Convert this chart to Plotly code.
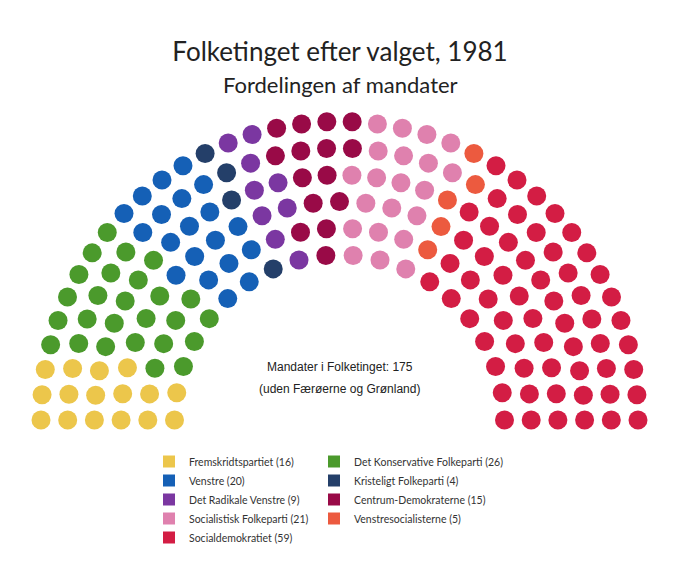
import numpy as np
import plotly.graph_objects as go

# Seats per party, in seating order from left to right
parties = ["Fremskridtspartiet", "Det Konservative Folkeparti", "Venstre",
           "Kristeligt Folkeparti", "Det Radikale Venstre", "Centrum-Demokraterne",
           "Socialistisk Folkeparti", "Venstresocialisterne", "Socialdemokratiet"]
seats = [16, 26, 20, 4, 9, 15, 21, 5, 59]
colors = ["#ECC64B", "#4B9A2C", "#1560B6", "#243F69", "#7B37A1",
          "#990A47", "#DF81AE", "#EC5A3F", "#D31D44"]

W, H = 680, 583
OFF = 8  # page body margin, positions below are in page pixels


def px_x(p):
    return (p - OFF) / W


def px_y(p):
    return 1 - (p - OFF) / H


# hemicycle layout (seats per arc, inner to outer)
ROW_SEATS = [20, 24, 27, 32, 34, 38]
CX, CY = 339.5, 420
R_INNER, ROW_GAP = 165, 26.7

slots = []
for i, n in enumerate(ROW_SEATS):
    r = R_INNER + i * ROW_GAP
    for k in range(n):
        a = np.pi - np.pi * k / (n - 1)
        slots.append((a, -i, CX + r * np.cos(a), CY - r * np.sin(a)))
# fill seats from the left, outer rows first on ties
slots.sort(key=lambda s: (-s[0], s[1]))

fig = go.Figure()
start = 0
for i, (name, n, col) in enumerate(zip(parties, seats, colors)):
    part = slots[start:start + n]
    start += n
    fig.add_trace(go.Scatter(
        x=[s[2] for s in part], y=[s[3] for s in part], mode="markers",
        marker=dict(size=19, color=col, line=dict(width=0)),
        name=f"{name} ({n})", legendgroup=name, showlegend=False,
        hovertemplate=f"{name}: {n}<extra></extra>"))
    # square legend entry; two columns
    fig.add_trace(go.Scatter(
        x=[None], y=[None], mode="markers",
        marker=dict(symbol="square", size=12, color=col),
        name=f"{name} ({n})", legendgroup=name,
        legend="legend" if i % 2 == 0 else "legend2"))

legend_style = dict(font=dict(family="Lato", size=10.5, color="#333"),
                    itemsizing="constant", tracegroupgap=0,
                    bgcolor="rgba(0,0,0,0)", xanchor="left", yanchor="top",
                    y=px_y(447))

center_font = dict(family="Liberation Sans", size=12, color="#222")
fig.add_annotation(x=CX, y=367, text="Mandater i Folketinget: 175", showarrow=False,
                   yanchor="middle", font=center_font)
fig.add_annotation(x=CX, y=389, text="(uden Færøerne og Grønland)", showarrow=False,
                   yanchor="middle", font=center_font)
fig.add_annotation(x=px_x(340), y=px_y(85), xref="paper", yref="paper",
                   text="Fordelingen af mandater", showarrow=False,
                   xanchor="center", yanchor="middle",
                   font=dict(family="Lato", size=22, color="#222"))

fig.update_layout(
    width=W, height=H, margin=dict(l=0, r=0, t=0, b=0, pad=0),
    paper_bgcolor="white", plot_bgcolor="white",
    title=dict(text="Folketinget efter valget, 1981", x=px_x(340), xanchor="center",
               y=px_y(52), yanchor="middle", yref="container",
               font=dict(family="Lato", size=26, color="#222")),
    xaxis=dict(range=[OFF, W + OFF], visible=False, fixedrange=True),
    yaxis=dict(range=[H + OFF, OFF], visible=False, fixedrange=True),
    legend=dict(x=px_x(149), **legend_style),
    legend2=dict(x=px_x(314), **legend_style),
    showlegend=True,
)

fig.write_html("out.html")
